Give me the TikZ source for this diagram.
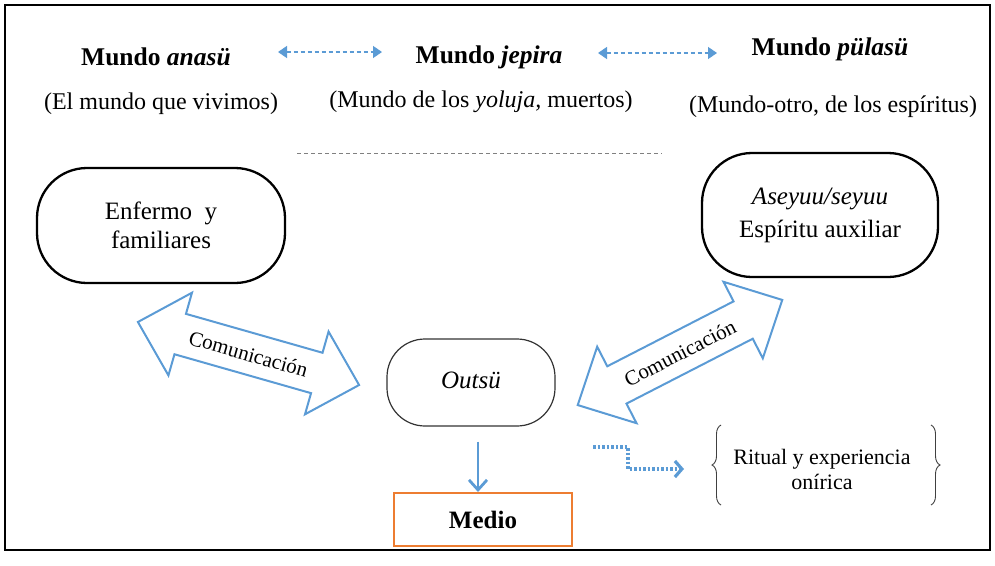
\documentclass[tikz,border=0pt]{standalone}
\usepackage{fontspec}
\setmainfont{Liberation Serif}
\usetikzlibrary{arrows.meta,decorations.pathreplacing}
\definecolor{ablue}{RGB}{91,155,213}
\definecolor{aorange}{RGB}{237,125,49}
\begin{document}
\begin{tikzpicture}[x=1pt,y=-1pt,
  hdr/.style={font=\fontsize{25.5}{29}\selectfont\bfseries, anchor=base, inner sep=0pt},
  sub/.style={font=\fontsize{24}{28}\selectfont, anchor=base, inner sep=0pt},
  pill/.style={draw, line width=2.3pt, rounded corners=50pt, align=center, font=\fontsize{25}{29}\selectfont},
  dashlink/.style={ablue, line width=1.4pt, dash pattern=on 4pt off 3pt, arrows={Triangle[length=9pt,width=12pt]-Triangle[length=9pt,width=12pt]}},
  blockarrow/.style={draw=ablue, line width=2pt, fill=white, line join=miter},
  commlabel/.style={font=\fontsize{21}{24}\selectfont, inner sep=0pt},
  bracestyle/.style={black!75, line width=0.9pt, decorate, decoration={brace, amplitude=9pt}},
  ]
\useasboundingbox (0,0) rectangle (995,565);
\draw[line width=2.8pt] (5,5) rectangle (990,550);

% headers
\node[hdr] (anasu) at (156,65) {Mundo \textit{anasü}};
\node[hdr] (jepira) at (489,63) {Mundo \textit{jepira}};
\node[hdr] (pulasu) at (830,55) {Mundo \textit{pülasü}};
\node[sub] (s1) at (161,109) {(El mundo que vivimos)};
\node[sub] (s2) at (481,107) {(Mundo de los \textit{yoluja,} muertos)};
\node[sub] (s3) at (833,112) {(Mundo-otro, de los espíritus)};

\coordinate (a1) at (278,52);
\coordinate (a2) at (382,52);
\coordinate (a3) at (598,53);
\coordinate (a4) at (717,53);
\draw[dashlink] (a1) -- (a2);
\draw[dashlink] (a3) -- (a4);

\coordinate (g1) at (297,153);
\coordinate (g2) at (662,153);
\draw[gray, line width=0.9pt, dash pattern=on 4pt off 3pt] (g1) -- (g2);

% main nodes
\node[pill, minimum width=248pt, minimum height=115pt] (enf) at (161,225.5) {Enfermo\ \ y\\familiares};
\node[pill, minimum width=236pt, minimum height=124pt] (ase) at (820,215) {\textit{Aseyuu/seyuu}\\[4pt]Espíritu auxiliar};
\node[draw=black!80, line width=1.2pt, rounded corners=38pt, minimum width=168pt, minimum height=87pt, font=\fontsize{25}{29}\selectfont] (out) at (471,382.5) {\raisebox{5pt}{\textit{Outsü}}};
\node[draw=aorange, line width=2pt, minimum width=178pt, minimum height=53pt, font=\fontsize{25}{29}\selectfont\bfseries] (medio) at (483,519.5) {Medio};

\draw[ablue, line width=2.8pt, -{Straight Barb[length=10pt,width=18pt]}] ([xshift=7pt,yshift=-15pt]out.south) -- ([xshift=-5pt]medio.north);

% dotted connector
\coordinate (ds) at (593,447);
\coordinate (de) at (684,469);
\draw[ablue, line width=3.2pt, dash pattern=on 2.5pt off 2pt, -{Straight Barb[length=7pt,width=16pt]}] (ds) -- ++(35,0) |- (de);

% ritual
\node[font=\fontsize{22}{25}\selectfont, align=center] (rit) at (822,469) {Ritual y experiencia\\onírica};
\coordinate (b1) at (721,505);
\coordinate (b2) at (721,425);
\coordinate (b3) at (931,425);
\coordinate (b4) at (931,505);
\draw[bracestyle] (b1) -- (b2);
\draw[bracestyle] (b3) -- (b4);

% block arrows
\begin{scope}[shift={(248.5,353.5)}, rotate=-15.9]
  \draw[blockarrow] (-115,0) -- (-71,-43) -- (-71,-21) -- (71,-21) -- (71,-43) -- (115,0) -- (71,43) -- (71,21) -- (-71,21) -- (-71,43) -- cycle;
\end{scope}
\node[commlabel, rotate=-15.9] (c1) at (248.5,354) {Comunicación};

\begin{scope}[shift={(680,352.5)}, rotate=27.2]
  \draw[blockarrow] (-115,0) -- (-71,-43) -- (-71,-21) -- (71,-21) -- (71,-43) -- (115,0) -- (71,43) -- (71,21) -- (-71,21) -- (-71,43) -- cycle;
\end{scope}
\node[commlabel, rotate=27.2] (c2) at (680,353) {Comunicación};
\end{tikzpicture}
\end{document}
